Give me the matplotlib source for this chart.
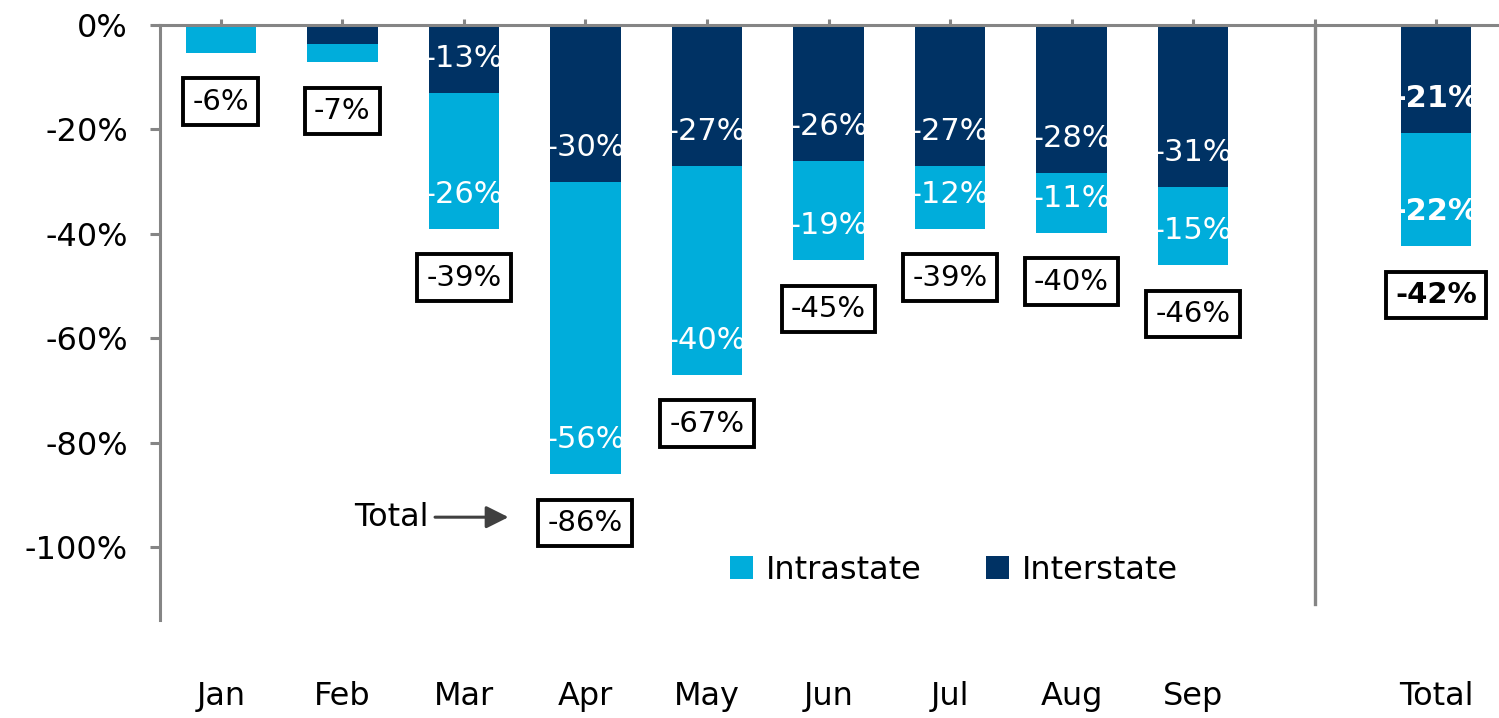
import matplotlib
matplotlib.use('Agg')
import matplotlib.pyplot as plt
import numpy as np

plt.rcParams['font.family'] = ['DejaVu Sans']
plt.rcParams['axes.unicode_minus'] = False

# ---- data ----
categories = ['Jan', 'Feb', 'Mar', 'Apr', 'May', 'Jun', 'Jul', 'Aug', 'Sep', '', 'Total']
bar_categories = ['Jan', 'Feb', 'Mar', 'Apr', 'May', 'Jun', 'Jul', 'Aug', 'Sep', 'Total']
interstate = [0.0, -3.6, -13.0, -30.0, -27.0, -26.0, -27.0, -28.4, -31.0, -20.7]
intrastate = [-5.3, -3.5, -26.0, -56.0, -40.0, -19.0, -12.0, -11.4, -15.0, -21.6]
totals = [-6, -7, -39, -86, -67, -45, -39, -40, -46, -42]
show_segment_labels = [False, False, True, True, True, True, True, True, True, True]
yticks = [0, -20, -40, -60, -80, -100]

LIGHT = '#00ADDB'
DARK = '#003264'
GRAY = '#858585'

fig = plt.figure(figsize=(14.99, 7.18), dpi=100)
ax = fig.add_axes([160 / 1499, 1 - 620 / 718, (1497 - 160) / 1499, (620 - 25) / 718])

pos = [categories.index(c) for c in bar_categories]
inter = np.array(interstate)
intra = np.array(intrastate)
width = 0.58

b_inter = ax.bar(pos, inter, width, color=DARK, label='Interstate', zorder=2)
b_intra = ax.bar(pos, intra, width, bottom=inter, color=LIGHT, label='Intrastate', zorder=2)

for i, x in enumerate(pos):
    bold = bar_categories[i] == 'Total'
    fw = 'bold' if bold else 'normal'
    end = inter[i] + intra[i]
    if show_segment_labels[i]:
        t1 = ax.text(x, inter[i] + 6.6, f"{inter[i]:.0f}%", ha='center', va='center',
                     color='white', fontsize=22, fontweight=fw, zorder=3)
        t1.set_clip_path(b_inter.patches[i])
        t2 = ax.text(x, end + 6.6, f"{intra[i]:.0f}%", ha='center', va='center',
                     color='white', fontsize=22, fontweight=fw, zorder=3)
        t2.set_clip_path(b_intra.patches[i])
    ax.text(x, end - 9.4, f"{totals[i]}%", ha='center', va='center', color='black',
            fontsize=21, fontweight=fw, zorder=4,
            bbox=dict(boxstyle='square,pad=0.32', facecolor='white', edgecolor='black', linewidth=2.8))

# separator line before Total
sep = categories.index('')
ax.plot([sep, sep], [0, -111], color=GRAY, lw=2.4, zorder=1, clip_on=False)

# "Total" annotation with arrow
ax.annotate('', xy=(2.39, -94.3), xytext=(1.74, -94.3),
            arrowprops=dict(arrowstyle='-|>', color='#404040', lw=2.2, mutation_scale=34))
ax.text(1.71, -94.3, 'Total', ha='right', va='center', fontsize=23, color='black')

ax.set_xlim(-0.5, len(categories) - 0.5)
ax.set_ylim(-114, 0)
ax.set_yticks(yticks)
ax.set_yticklabels([f"{v}%" for v in yticks])
ax.set_xticks(range(len(categories)))
ax.set_xticklabels(categories)

for s in ['right', 'bottom']:
    ax.spines[s].set_visible(False)
for s in ['left', 'top']:
    ax.spines[s].set_color(GRAY)
    ax.spines[s].set_linewidth(2.2)

ax.tick_params(axis='y', direction='out', length=7, width=2.2, color=GRAY,
               labelsize=23, pad=16)
ax.tick_params(axis='x', bottom=False, top=True, labelbottom=True, labeltop=False,
               direction='out', length=4, width=2.2, color=GRAY, labelsize=23, pad=40)

handles = [b_intra, b_inter]
leg = ax.legend(handles, ['Intrastate', 'Interstate'], loc='center', bbox_to_anchor=(0.594, 0.084),
                ncol=2, frameon=False, fontsize=23, handlelength=0.72, handleheight=0.72,
                handletextpad=0.4, columnspacing=2.0)

fig.savefig('out.png', dpi=100)
